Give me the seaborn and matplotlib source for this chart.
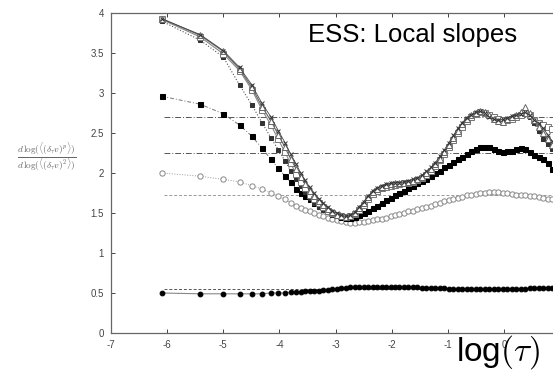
import numpy as np
import pandas as pd
import matplotlib
matplotlib.use("Agg")
import matplotlib.pyplot as plt
import seaborn as sns

# log(tau) sample positions
log_tau = [-6.10, -5.41, -5.00, -4.71, -4.49, -4.31, -4.15, -4.02, -3.90, -3.80, -3.70, -3.62, -3.54,
           -3.46, -3.38, -3.30, -3.22, -3.14, -3.06, -2.98, -2.90,
           -2.82, -2.74, -2.66, -2.58, -2.50, -2.42, -2.34, -2.26,
           -2.18, -2.10, -2.02, -1.94, -1.86, -1.78, -1.70, -1.62,
           -1.54, -1.46, -1.38, -1.30, -1.22, -1.14, -1.06, -0.98,
           -0.90, -0.82, -0.74, -0.66, -0.58, -0.50, -0.42, -0.34,
           -0.26, -0.18, -0.10, -0.02, 0.06, 0.14, 0.22, 0.30,
           0.38, 0.46, 0.54, 0.62, 0.70, 0.78, 0.86, 0.94]

# local slopes, one list per order p
slope_p1 = [0.50, 0.49, 0.49, 0.49, 0.49, 0.49, 0.50, 0.50, 0.50, 0.51, 0.51, 0.51, 0.52,
            0.52, 0.53, 0.53, 0.54, 0.54, 0.55, 0.55, 0.56,
            0.56, 0.57, 0.57, 0.57, 0.58, 0.58, 0.58, 0.58,
            0.58, 0.58, 0.58, 0.58, 0.57, 0.57, 0.57, 0.57,
            0.57, 0.56, 0.56, 0.56, 0.56, 0.56, 0.56, 0.55,
            0.55, 0.55, 0.55, 0.55, 0.55, 0.55, 0.55, 0.55,
            0.55, 0.55, 0.55, 0.55, 0.55, 0.55, 0.55, 0.55,
            0.55, 0.56, 0.56, 0.56, 0.56, 0.56, 0.56, 0.56]

slope_p4 = [2.00, 1.96, 1.92, 1.89, 1.84, 1.80, 1.75, 1.71, 1.67, 1.63, 1.59, 1.56, 1.54,
            1.52, 1.50, 1.48, 1.46, 1.44, 1.42, 1.41, 1.40,
            1.39, 1.38, 1.38, 1.39, 1.39, 1.40, 1.41, 1.42,
            1.43, 1.44, 1.46, 1.47, 1.49, 1.50, 1.52, 1.53,
            1.55, 1.56, 1.58, 1.59, 1.61, 1.63, 1.65, 1.66,
            1.68, 1.69, 1.70, 1.72, 1.73, 1.74, 1.75, 1.75,
            1.76, 1.76, 1.76, 1.75, 1.75, 1.74, 1.73, 1.72,
            1.72, 1.71, 1.71, 1.70, 1.69, 1.68, 1.68, 1.67]

slope_p6 = [2.96, 2.86, 2.74, 2.60, 2.46, 2.31, 2.17, 2.06, 1.96, 1.89, 1.80, 1.75, 1.71,
            1.67, 1.63, 1.59, 1.56, 1.52, 1.49, 1.47, 1.45,
            1.44, 1.44, 1.45, 1.47, 1.50, 1.53, 1.56, 1.59,
            1.63, 1.66, 1.69, 1.72, 1.75, 1.78, 1.81, 1.84,
            1.87, 1.90, 1.93, 1.96, 2.00, 2.03, 2.07, 2.10,
            2.14, 2.17, 2.20, 2.24, 2.27, 2.30, 2.32, 2.33,
            2.33, 2.30, 2.28, 2.26, 2.27, 2.28, 2.30, 2.31,
            2.30, 2.26, 2.22, 2.20, 2.17, 2.12, 2.05, 2.00]

slope_a = [3.92, 3.70, 3.49, 3.28, 3.04, 2.79, 2.60, 2.42, 2.26, 2.12, 1.99, 1.89, 1.81,
           1.73, 1.67, 1.62, 1.57, 1.53, 1.50, 1.48, 1.46,
           1.45, 1.46, 1.49, 1.54, 1.60, 1.67, 1.74, 1.78,
           1.81, 1.83, 1.84, 1.85, 1.86, 1.87, 1.88, 1.89,
           1.91, 1.94, 1.98, 2.03, 2.09, 2.16, 2.24, 2.32,
           2.41, 2.50, 2.58, 2.65, 2.70, 2.74, 2.76, 2.75,
           2.73, 2.70, 2.67, 2.66, 2.66, 2.68, 2.70, 2.72,
           2.75, 2.72, 2.66, 2.62, 2.60, 2.58, 2.55, 2.50]

slope_b = [3.93, 3.72, 3.52, 3.30, 3.07, 2.83, 2.65, 2.48, 2.32, 2.18, 2.05, 1.95, 1.86,
           1.78, 1.71, 1.65, 1.60, 1.55, 1.51, 1.48, 1.46,
           1.45, 1.46, 1.50, 1.56, 1.63, 1.70, 1.76, 1.80,
           1.83, 1.85, 1.86, 1.87, 1.87, 1.88, 1.89, 1.90,
           1.92, 1.95, 2.00, 2.05, 2.11, 2.18, 2.26, 2.35,
           2.44, 2.53, 2.61, 2.68, 2.72, 2.75, 2.77, 2.76,
           2.72, 2.68, 2.65, 2.64, 2.67, 2.70, 2.73, 2.76,
           2.82, 2.75, 2.66, 2.58, 2.50, 2.42, 2.35, 2.30]

slope_c = [3.93, 3.73, 3.53, 3.32, 3.10, 2.87, 2.70, 2.53, 2.38, 2.24, 2.11, 2.00, 1.91,
           1.82, 1.75, 1.68, 1.62, 1.57, 1.53, 1.50, 1.47,
           1.46, 1.47, 1.51, 1.57, 1.64, 1.71, 1.77, 1.81,
           1.84, 1.86, 1.87, 1.88, 1.88, 1.89, 1.90, 1.92,
           1.94, 1.97, 2.02, 2.07, 2.13, 2.21, 2.29, 2.38,
           2.47, 2.56, 2.63, 2.69, 2.73, 2.76, 2.77, 2.75,
           2.70, 2.67, 2.66, 2.67, 2.69, 2.71, 2.72, 2.74,
           2.76, 2.72, 2.66, 2.62, 2.56, 2.48, 2.40, 2.34]

slope_d = [3.90, 3.66, 3.45, 3.10, 2.85, 2.63, 2.44, 2.29, 2.15, 2.03, 1.93, 1.84, 1.76,
           1.69, 1.63, 1.58, 1.54, 1.51, 1.48, 1.46, 1.45,
           1.44, 1.45, 1.48, 1.53, 1.59, 1.66, 1.72, 1.77,
           1.80, 1.82, 1.83, 1.84, 1.85, 1.86, 1.87, 1.88,
           1.90, 1.93, 1.97, 2.02, 2.08, 2.15, 2.23, 2.31,
           2.40, 2.49, 2.57, 2.64, 2.69, 2.73, 2.75, 2.74,
           2.71, 2.68, 2.66, 2.65, 2.66, 2.68, 2.70, 2.72,
           2.74, 2.70, 2.62, 2.52, 2.42, 2.36, 2.30, 2.26]

# reference levels (horizontal lines)
ref_levels = [2.70, 2.25, 1.72, 0.55]
ref_styles = [(0, (6, 2, 1, 2)), (0, (6, 2, 1, 2)), (0, (3, 2)), (0, (3, 2))]
ref_colors = ['#555555', '#555555', '#999999', '#555555']

sns.set_style('ticks')
plt.rcParams['font.family'] = ['Liberation Sans', 'DejaVu Sans']
plt.rcParams['mathtext.fontset'] = 'cm'

fig = plt.figure(figsize=(5.53, 3.73), dpi=100)
ax = fig.add_axes([111 / 553, 40 / 373, 449 / 553, 320 / 373])

for lev, ls, c in zip(ref_levels, ref_styles, ref_colors):
    ax.plot([-6.05, 1.0], [lev, lev], linestyle=ls, color=c, lw=0.7)

series = [
    (slope_p1, dict(marker='o', ms=3.4, mfc='black', mec='black', color='#888888', linestyle='-', lw=0.8)),
    (slope_p4, dict(marker='o', ms=3.8, mfc='white', mec='#888888', mew=0.7, color='#999999', linestyle=':', lw=0.7)),
    (slope_p6, dict(marker='s', ms=3.6, mfc='black', mec='black', color='#777777', linestyle=(0, (4, 2, 1, 2)), lw=0.7)),
    (slope_d, dict(marker='s', ms=2.4, mfc='#333333', mec='#333333', color='#555555', linestyle=':', lw=0.8)),
    (slope_a, dict(marker='s', ms=3.8, mfc='white', mec='#777777', mew=0.7, color='#888888', linestyle='-', lw=0.8)),
    (slope_b, dict(marker='^', ms=4.0, mfc='white', mec='#666666', mew=0.7, color='#666666', linestyle='-', lw=0.8)),
    (slope_c, dict(marker='x', ms=3.4, mec='#333333', mew=0.7, color='#444444', linestyle='-', lw=0.6)),
]
for vals, kw in series:
    df = pd.DataFrame({'log_tau': log_tau, 'slope': vals})
    sns.lineplot(data=df, x='log_tau', y='slope', ax=ax, **kw)

ax.set_xlim(-7, 1)
ax.set_ylim(0, 4)
ax.set_xticks(range(-7, 1))
ax.set_xticklabels([str(v) for v in range(-7, 1)])
ax.set_yticks([0, 0.5, 1, 1.5, 2, 2.5, 3, 3.5, 4])
ax.set_yticklabels(['0', '0.5', '1', '1.5', '2', '2.5', '3', '3.5', '4'])
ax.tick_params(direction='in', length=3, width=0.7, colors='#444444', labelsize=7,
               top=True, right=True, pad=5)
for s in ax.spines.values():
    s.set_color('#666666')
    s.set_linewidth(0.9)
ax.set_xlabel('')
ax.set_ylabel('')

fig.text(47 / 553, 1 - 157 / 373,
         r'$\frac{d\,\log(\langle(\delta_\tau v)^p\rangle)}{d\,\log(\langle(\delta_\tau v)^2\rangle)}$',
         ha='center', va='center', fontsize=9.5, color='#666666')
fig.text(308 / 553, 1 - 35 / 373, 'ESS: Local slopes', ha='left', va='center',
         fontsize=18.5, color='black')
fig.text(456 / 553, 1 - 361 / 373, r'log$(\tau)$', ha='left', va='baseline',
         fontsize=24, color='black')

fig.savefig('out.png', dpi=100)
